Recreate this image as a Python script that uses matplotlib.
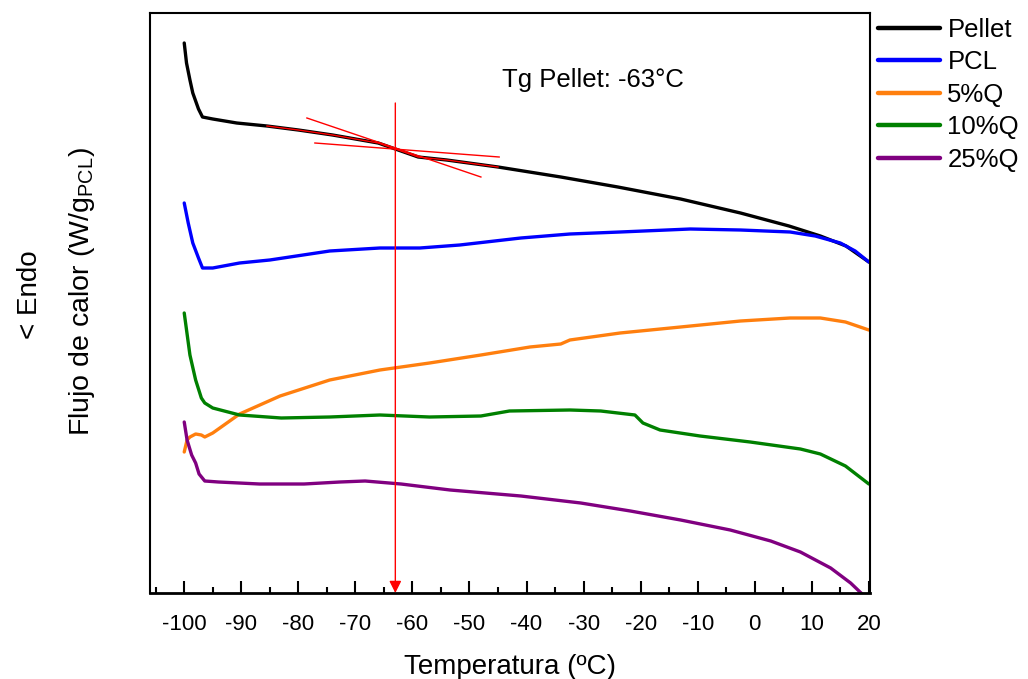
import matplotlib
matplotlib.use("Agg")
import matplotlib.pyplot as plt

plt.rcParams["font.family"] = ["Liberation Sans", "DejaVu Sans"]
plt.rcParams["mathtext.fontset"] = "custom"
plt.rcParams["mathtext.rm"] = "Liberation Sans"
plt.rcParams["axes.unicode_minus"] = False

# DSC curves (heat flow, arbitrary units, stacked)
t_pellet = [-100, -99.6, -99, -98.5, -97.5, -96.8, -95, -90.8, -85.5, -80, -74, -69,
            -66, -63, -59, -54, -45, -34, -24, -13, -2.5, 6, 11.5, 16, 20]
y_pellet = [5.50, 5.30, 5.13, 5.00, 4.84, 4.76, 4.74, 4.70, 4.67, 4.63, 4.58, 4.53,
            4.50, 4.44, 4.36, 4.33, 4.26, 4.16, 4.06, 3.94, 3.80, 3.67, 3.57, 3.47, 3.31]

t_pcl = [-100, -99.3, -98.5, -97.5, -96.8, -95, -90.3, -85, -74.5, -65.7, -58.7, -51.7,
         -41, -32.4, -23.6, -11.3, -2.5, 6.2, 10.6, 15, 17.6, 20]
y_pcl = [3.90, 3.70, 3.50, 3.35, 3.25, 3.25, 3.30, 3.33, 3.42, 3.45, 3.45, 3.48,
         3.55, 3.59, 3.61, 3.64, 3.63, 3.61, 3.57, 3.50, 3.42, 3.31]

t_5q = [-100, -99.5, -99, -98, -97, -96.4, -95, -90.3, -83.2, -74.5, -65.7, -57, -48,
        -39.4, -34, -32.4, -23.6, -13, -2.5, 6.2, 11.5, 15.9, 20]
y_5q = [1.41, 1.53, 1.56, 1.59, 1.58, 1.56, 1.60, 1.79, 1.97, 2.13, 2.23, 2.30, 2.38,
        2.46, 2.49, 2.53, 2.60, 2.66, 2.72, 2.75, 2.75, 2.71, 2.63]

t_10q = [-100, -99, -98, -97, -96.4, -95, -90.3, -83, -74.5, -65.7, -57, -48, -43,
         -32.4, -27, -21, -19.6, -16.6, -9.6, -0.8, 8, 11.5, 15.9, 20]
y_10q = [2.80, 2.38, 2.13, 1.95, 1.90, 1.85, 1.78, 1.75, 1.76, 1.78, 1.76, 1.77, 1.82,
         1.83, 1.82, 1.78, 1.70, 1.63, 1.57, 1.51, 1.44, 1.39, 1.27, 1.09]

t_25q = [-100, -99.5, -98.7, -98, -97.4, -96.4, -94, -86.8, -79, -72.7, -68.3, -62,
         -53.4, -41, -30.5, -21.8, -13, -4.3, 2.8, 8, 13.3, 16.8, 19, 20]
y_25q = [1.71, 1.53, 1.38, 1.30, 1.19, 1.12, 1.11, 1.09, 1.09, 1.11, 1.12, 1.09,
         1.03, 0.97, 0.90, 0.82, 0.73, 0.63, 0.52, 0.41, 0.25, 0.10, -0.02, -0.10]

# Tg construction (tangent lines on the Pellet curve)
tan1_t = [-78.5, -48.0]
tan1_y = [4.75, 4.16]
tan2_t = [-77.1, -44.8]
tan2_y = [4.50, 4.36]
tg = -63
tg_top = 4.90

fig = plt.figure(figsize=(10.28, 6.79), dpi=100)
ax = fig.add_axes([150 / 1028, 86 / 679, 720 / 1028, 580 / 679])

series = [
    (t_pellet, y_pellet, "black", "Pellet"),
    (t_pcl, y_pcl, "#0000ff", "PCL"),
    (t_5q, y_5q, "#ff7f0e", "5%Q"),
    (t_10q, y_10q, "#008000", "10%Q"),
    (t_25q, y_25q, "#800080", "25%Q"),
]
for t, y, c, lab in series:
    ax.plot(t, y, color=c, lw=2.4, label=lab, solid_capstyle="round")

# red overlay along the Pellet curve in the transition region
sel = [i for i, t in enumerate(t_pellet) if -85.5 <= t <= -45]
ax.plot([t_pellet[i] for i in sel], [y_pellet[i] for i in sel], color="red", lw=1.0)
ax.plot(tan1_t, tan1_y, color="red", lw=1.0)
ax.plot(tan2_t, tan2_y, color="red", lw=1.0)
ax.annotate("", xy=(tg, 0), xytext=(tg, tg_top),
            arrowprops=dict(arrowstyle="-|>", color="red", lw=1.0,
                            mutation_scale=18, shrinkA=0, shrinkB=0))
ax.text(-28.3, 5.13, "Tg Pellet: -63°C", fontsize=18.5, ha="center", va="center")

ax.set_xlim(-106, 20.2)
ax.set_ylim(0, 5.8)
ax.set_xticks(range(-100, 21, 10))
ax.set_xticks(range(-105, 21, 10), minor=True)
ax.set_yticks([])
ax.tick_params(axis="x", which="major", direction="in", length=8.6, width=1.5,
               labelsize=16, pad=15)
ax.tick_params(axis="x", which="minor", direction="in", length=4.3, width=1.5)
for s in ax.spines.values():
    s.set_linewidth(1.5)
ax.spines["bottom"].set_linewidth(2)

ax.set_xlabel("Temperatura (ºC)", fontsize=20, labelpad=14)
fig.text(82 / 1028, 1 - 292 / 679,
         r"Flujo de calor $\left(\mathrm{W/g}_{\mathrm{PCL}}\right)$",
         rotation=90, fontsize=20.5, ha="center", va="center")
fig.text(30 / 1028, 1 - 295 / 679, "< Endo", rotation=90, fontsize=20,
         ha="center", va="center")

ax.legend(loc="upper left", bbox_to_anchor=(878 / 1028, 1 - 18 / 679),
          bbox_transform=fig.transFigure, frameon=False, fontsize=18.5,
          handlelength=2.4, handletextpad=0.3, labelspacing=0.33,
          borderpad=0, borderaxespad=0)
for line in ax.get_legend().get_lines():
    line.set_linewidth(3.2)

fig.savefig("out.png", dpi=100)
